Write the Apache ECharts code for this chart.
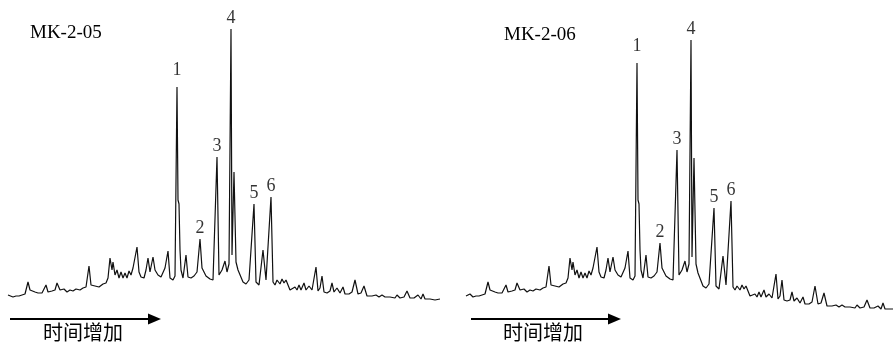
<!DOCTYPE html>
<html>
<head>
<meta charset="utf-8">
<script src="https://cdn.jsdelivr.net/npm/echarts@6/dist/echarts.min.js"></script>
<style>
  html, body { margin: 0; padding: 0; background: #fff; }
  #chart { width: 893px; height: 342px; }
</style>
</head>
<body>
<div id="chart"></div>
<script>
// Chromatogram traces: [retention time, intensity]
const traceMK205 = [
  [0,15],[2,16],[5,13],[8,14],[11,14],[14,15],[17,16],[20,28],[22,20],[24,21],
  [27,18],[30,17],[34,17],[36,19],[38,25],[40,18],[44,19],[47,20],[49,27],[52,20],
  [56,21],[59,18],[62,20],[65,19],[68,21],[72,20],[75,22],[78,23],[81,44],[83,25],
  [87,24],[91,23],[95,26],[98,27],[100,32],[102,52],[104,40],[105,48],[107,35],[109,40],
  [111,32],[113,38],[115,32],[117,37],[119,32],[121,39],[123,35],[125,42],[127,44],[129,63],
  [131,38],[133,33],[136,32],[138,40],[140,52],[142,38],[145,53],[147,40],[150,35],[153,33],
  [155,35],[157,42],[160,59],[162,32],[165,30],[167,34],[169,223],[170,110],[171,106],[172,60],
  [173,40],[175,32],[178,55],[180,33],[183,32],[186,34],[189,38],[192,71],[194,42],[196,38],
  [198,34],[200,36],[202,31],[205,30],[207,32],[209,153],[211,35],[214,40],[217,49],[219,38],
  [221,46],[223,281],[224,55],[226,138],[228,48],[230,40],[232,38],[235,28],[238,26],[241,30],
  [243,28],[246,106],[248,28],[251,25],[255,60],[258,30],[260,31],[263,113],[265,28],[267,25],
  [269,30],[272,26],[274,31],[276,27],[278,30],[280,25],[282,20],[284,22],[287,23],[289,20],
  [291,25],[293,20],[296,27],[298,20],[301,24],[304,20],[306,18],[308,43],[310,19],[312,22],
  [314,34],[316,18],[319,17],[322,19],[324,27],[326,18],[329,22],[332,17],[335,23],[337,16],
  [341,16],[344,18],[347,30],[350,16],[353,17],[356,24],[359,14],[364,14],[368,15],[371,13],
  [374,15],[377,13],[382,13],[387,12],[389,15],[392,12],[396,13],[399,19],[402,12],[406,12],
  [410,15],[413,11],[415,16],[417,11],[422,11],[427,10],[432,11]
];

const traceMK206 = [
  [0,14],[4,16],[7,13],[10,14],[13,14],[16,15],[19,16],[22,28],[24,20],[26,21],
  [29,18],[32,17],[36,17],[38,19],[40,25],[42,18],[46,19],[49,20],[51,27],[54,20],
  [58,21],[61,18],[64,20],[67,19],[70,21],[74,20],[77,22],[80,23],[83,44],[85,25],
  [89,24],[93,23],[97,26],[100,27],[102,32],[104,52],[106,40],[107,48],[109,35],[111,40],
  [113,32],[115,38],[117,32],[119,37],[121,32],[123,39],[125,35],[127,42],[129,44],[131,63],
  [133,38],[135,33],[138,32],[140,40],[142,52],[144,38],[147,53],[149,40],[152,35],[155,33],
  [157,35],[159,42],[162,59],[164,32],[167,30],[169,34],[171,247],[172,110],[173,106],[174,60],
  [175,40],[177,32],[180,55],[182,33],[185,32],[188,34],[191,38],[194,67],[196,42],[198,38],
  [200,34],[202,36],[204,31],[207,30],[209,32],[211,160],[213,35],[216,40],[219,49],[221,38],
  [223,46],[225,270],[226,53],[228,152],[230,46],[232,37],[234,36],[237,24],[240,22],[243,26],
  [245,24],[248,102],[250,24],[253,21],[257,54],[260,25],[262,26],[265,109],[267,23],[269,20],
  [271,24],[274,20],[276,25],[278,21],[280,24],[282,19],[284,14],[286,16],[289,16],[291,13],
  [293,18],[295,13],[298,20],[300,13],[303,16],[306,12],[308,10],[310,36],[312,11],[314,14],
  [316,30],[318,10],[321,9],[324,10],[326,18],[328,9],[331,12],[334,7],[337,13],[339,6],
  [343,6],[346,8],[349,24],[352,6],[355,7],[358,17],[361,4],[366,4],[370,5],[373,3],
  [376,5],[379,3],[384,3],[389,2],[391,5],[394,2],[398,3],[401,10],[404,2],[408,2],
  [412,4],[415,1],[417,7],[419,1],[424,1],[427,1]
];

// labelled peaks
const peakNames = ["1", "2", "3", "4", "5", "6"];
const peaksMK205 = [[169,223],[192,71],[209,153],[223,281],[246,106],[263,113]];
const peaksMK206 = [[171,247],[194,67],[211,160],[225,270],[248,102],[265,109]];

const sampleNames = ["MK-2-05", "MK-2-06"];
const arrowText = "时间增加";

const LINE_COLOR = "#111";
const SERIF = "'Liberation Serif', 'DejaVu Serif', serif";

const chart = echarts.init(document.getElementById("chart"));

function peakLabels(peaks, gi) {
  return {
    type: "scatter",
    xAxisIndex: gi,
    yAxisIndex: gi,
    symbolSize: 0,
    silent: true,
    data: peaks.map((p, i) => ({
      value: p,
      name: peakNames[i],
      // the "1" sits a little higher above its peak
      label: { distance: i === 0 ? 8 : 2 },
    })),
    label: {
      show: true,
      position: "top",
      formatter: (p) => p.name,
      color: "#000",
      fontFamily: SERIF,
      fontSize: 18,
    },
  };
}

function arrow(x0, x1, y) {
  return [
    {
      type: "line",
      shape: { x1: x0, y1: y, x2: x1 - 10, y2: y },
      style: { stroke: "#000", lineWidth: 2 },
    },
    {
      type: "polygon",
      shape: { points: [[x1 - 13, y - 5.5], [x1, y], [x1 - 13, y + 5.5]] },
      style: { fill: "#000" },
    },
  ];
}

const option = {
  animation: false,
  backgroundColor: "#fff",
  title: [
    {
      text: sampleNames[0],
      left: 25,
      top: 19,
      textStyle: { fontFamily: SERIF, fontWeight: "normal", fontSize: 19, color: "#000" },
    },
    {
      text: sampleNames[1],
      left: 499,
      top: 21,
      textStyle: { fontFamily: SERIF, fontWeight: "normal", fontSize: 19, color: "#000" },
    },
  ],
  grid: [
    { left: 8, top: 0, width: 432, height: 310 },
    { left: 466, top: 0, width: 427, height: 310 },
  ],
  xAxis: [
    { type: "value", gridIndex: 0, min: 0, max: 432, show: false },
    { type: "value", gridIndex: 1, min: 0, max: 427, show: false },
  ],
  yAxis: [
    { type: "value", gridIndex: 0, min: 0, max: 310, show: false },
    { type: "value", gridIndex: 1, min: 0, max: 310, show: false },
  ],
  series: [
    {
      type: "line",
      xAxisIndex: 0,
      yAxisIndex: 0,
      data: traceMK205,
      showSymbol: false,
      lineStyle: { color: LINE_COLOR, width: 1.2 },
    },
    {
      type: "line",
      xAxisIndex: 1,
      yAxisIndex: 1,
      data: traceMK206,
      showSymbol: false,
      lineStyle: { color: LINE_COLOR, width: 1.2 },
    },
    peakLabels(peaksMK205, 0),
    peakLabels(peaksMK206, 1),
  ],
  graphic: [
    ...arrow(10, 161, 319),
    ...arrow(471, 621, 319),
    {
      type: "text",
      left: 43,
      top: 322,
      style: { text: arrowText, font: "20px 'Noto Sans CJK SC'", fill: "#000" },
    },
    {
      type: "text",
      left: 503,
      top: 322,
      style: { text: arrowText, font: "20px 'Noto Sans CJK SC'", fill: "#000" },
    },
  ],
};

chart.setOption(option);
</script>
</body>
</html>
